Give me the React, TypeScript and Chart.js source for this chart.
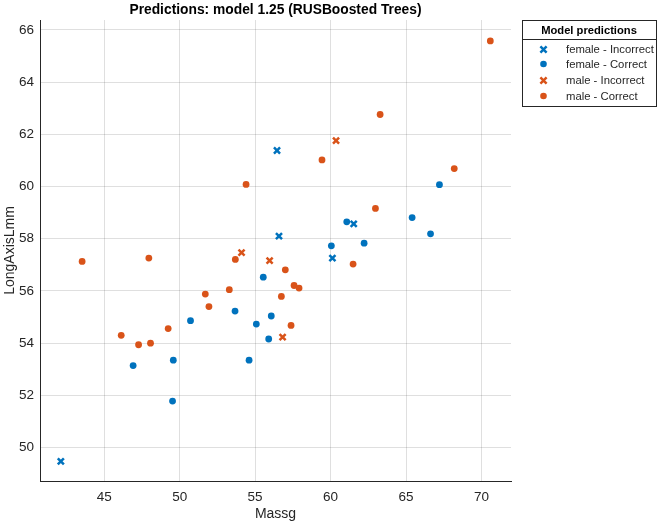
import React, { useEffect, useRef } from "react";
import { Chart, registerables } from "chart.js";

Chart.register(...registerables);

// ---- Data ----
const femaleIncorrectX = [42.13, 56.45, 56.58, 61.53, 60.12];
const femaleIncorrectY = [49.47, 61.38, 58.1, 58.57, 57.26];

const femaleCorrectX = [46.92, 49.58, 49.53, 50.72, 53.67, 54.6, 55.08, 55.54, 55.9, 56.07, 60.05, 62.22, 61.07, 65.4, 66.62, 67.21];
const femaleCorrectY = [53.14, 53.35, 51.78, 54.86, 55.23, 53.35, 54.73, 56.53, 54.16, 55.04, 57.73, 57.83, 58.65, 58.81, 58.19, 60.07];

const maleIncorrectX = [54.1, 55.96, 56.82, 60.36];
const maleIncorrectY = [57.47, 57.16, 54.23, 61.76];

const maleCorrectX = [43.54, 47.96, 46.13, 47.28, 48.07, 49.24, 51.7, 51.94, 53.29, 53.69, 54.4, 57.0, 57.58, 57.91, 56.74, 57.38, 61.49, 59.43, 63.28, 62.97, 68.19, 70.58];
const maleCorrectY = [57.13, 57.26, 54.3, 53.94, 54.0, 54.56, 55.88, 55.4, 56.05, 57.21, 60.08, 56.81, 56.21, 56.11, 55.79, 54.68, 57.03, 61.02, 62.76, 59.16, 60.69, 65.58];

const xTicks = [45, 50, 55, 60, 65, 70];
const yTicks = [50, 52, 54, 56, 58, 60, 62, 64, 66];

const seriesLabels = ["female - Incorrect", "female - Correct", "male - Incorrect", "male - Correct"];
const titleText = "Predictions: model 1.25 (RUSBoosted Trees)";
const xLabel = "Massg";
const yLabel = "LongAxisLmm";
const legendTitle = "Model predictions";

const BLUE = "#0072BD";
const ORANGE = "#D95319";
const DARK = "#262626";
const FONT = "'Liberation Sans', Arial, Helvetica, sans-serif";

function pts(xs: number[], ys: number[]) {
  return xs.map((x, i) => ({ x, y: ys[i] }));
}

function drawCross(ctx: CanvasRenderingContext2D, x: number, y: number, color: string) {
  const h = 3.1;
  ctx.save();
  ctx.strokeStyle = color;
  ctx.lineWidth = 2.5;
  ctx.beginPath();
  ctx.moveTo(x - h, y - h);
  ctx.lineTo(x + h, y + h);
  ctx.moveTo(x - h, y + h);
  ctx.lineTo(x + h, y - h);
  ctx.stroke();
  ctx.restore();
}

function drawDot(ctx: CanvasRenderingContext2D, x: number, y: number, color: string) {
  ctx.save();
  ctx.fillStyle = color;
  ctx.beginPath();
  ctx.arc(x, y, 3.3, 0, Math.PI * 2);
  ctx.fill();
  ctx.restore();
}

const decorPlugin = {
  id: "decor",
  afterDraw(chart: any) {
    const ctx: CanvasRenderingContext2D = chart.ctx;
    const area = chart.chartArea;
    const cx = (area.left + area.right) / 2;
    ctx.save();
    // Title
    ctx.fillStyle = "#000";
    ctx.font = `bold 13.8px ${FONT}`;
    ctx.textAlign = "center";
    ctx.textBaseline = "middle";
    ctx.fillText(titleText, cx, 10);
    // X label
    ctx.fillStyle = DARK;
    ctx.font = `14px ${FONT}`;
    ctx.fillText(xLabel, cx, 514);
    // Y label
    ctx.save();
    ctx.translate(10, (area.top + area.bottom) / 2);
    ctx.rotate(-Math.PI / 2);
    ctx.fillText(yLabel, 0, 0);
    ctx.restore();

    // Legend
    const lx = 522, ly = 20, lw = 134, lh = 86;
    ctx.fillStyle = "#fff";
    ctx.fillRect(lx, ly, lw, lh);
    ctx.strokeStyle = DARK;
    ctx.lineWidth = 1;
    ctx.strokeRect(lx + 0.5, ly + 0.5, lw, lh);
    ctx.beginPath();
    ctx.moveTo(lx, ly + 19.5);
    ctx.lineTo(lx + lw, ly + 19.5);
    ctx.stroke();
    ctx.fillStyle = "#000";
    ctx.font = `bold 11.2px ${FONT}`;
    ctx.textAlign = "center";
    ctx.fillText(legendTitle, lx + lw / 2, ly + 11);
    ctx.font = `11.3px ${FONT}`;
    ctx.textAlign = "left";
    const rowY = [49.5, 64, 80.5, 96];
    const colors = [BLUE, BLUE, ORANGE, ORANGE];
    seriesLabels.forEach((lab, i) => {
      const y = rowY[i];
      if (i % 2 === 0) drawCross(ctx, 543.5, y, colors[i]);
      else drawDot(ctx, 543.5, y, colors[i]);
      ctx.fillStyle = DARK;
      ctx.fillText(lab, 566, y + 0.5);
    });
    ctx.restore();
  },
};

export default function App() {
  const ref = useRef<HTMLCanvasElement | null>(null);

  useEffect(() => {
    if (!ref.current) return;
    const crossDs = (label: string, data: any[], color: string) => ({
      label,
      data,
      pointStyle: "crossRot",
      pointRadius: 4.3,
      pointBorderWidth: 2.5,
      borderColor: color,
      backgroundColor: color,
      pointHoverRadius: 4.3,
    });
    const dotDs = (label: string, data: any[], color: string) => ({
      label,
      data,
      pointStyle: "circle",
      pointRadius: 3.4,
      pointBorderWidth: 0,
      borderColor: color,
      backgroundColor: color,
      pointHoverRadius: 3.4,
    });
    const chart = new Chart(ref.current, {
      type: "scatter",
      data: {
        datasets: [
          crossDs(seriesLabels[0], pts(femaleIncorrectX, femaleIncorrectY), BLUE),
          dotDs(seriesLabels[1], pts(femaleCorrectX, femaleCorrectY), BLUE),
          crossDs(seriesLabels[2], pts(maleIncorrectX, maleIncorrectY), ORANGE),
          dotDs(seriesLabels[3], pts(maleCorrectX, maleCorrectY), ORANGE),
        ] as any,
      },
      options: {
        animation: false,
        responsive: false,
        events: [],
        layout: { padding: { top: 20, right: 149, left: 0, bottom: 0 } },
        plugins: {
          legend: { display: false },
          tooltip: { enabled: false },
          title: { display: false },
        },
        scales: {
          x: {
            type: "linear",
            min: 40.75,
            max: 71.95,
            afterFit: (s: any) => {
              s.height = 44;
            },
            afterBuildTicks: (s: any) => {
              s.ticks = xTicks.map((v) => ({ value: v }));
            },
            ticks: {
              color: DARK,
              font: { family: FONT, size: 13.5 },
              padding: 8,
              maxRotation: 0,
            },
            grid: { color: "rgba(38,38,38,0.15)", drawTicks: false, lineWidth: 1 },
            border: { display: true, color: DARK, width: 1 },
          },
          y: {
            type: "linear",
            min: 48.72,
            max: 66.38,
            afterFit: (s: any) => {
              s.width = 40;
            },
            afterBuildTicks: (s: any) => {
              s.ticks = yTicks.map((v) => ({ value: v }));
            },
            ticks: {
              color: DARK,
              font: { family: FONT, size: 13.5 },
              padding: 6,
            },
            grid: { color: "rgba(38,38,38,0.15)", drawTicks: false, lineWidth: 1 },
            border: { display: true, color: DARK, width: 1 },
          },
        },
      } as any,
      plugins: [decorPlugin],
    });
    return () => chart.destroy();
  }, []);

  return (
    <div style={{ position: "fixed", left: 0, top: 0, width: 660, height: 525, background: "#fff" }}>
      <canvas ref={ref} width={660} height={525} style={{ width: 660, height: 525, display: "block" }} />
    </div>
  );
}
